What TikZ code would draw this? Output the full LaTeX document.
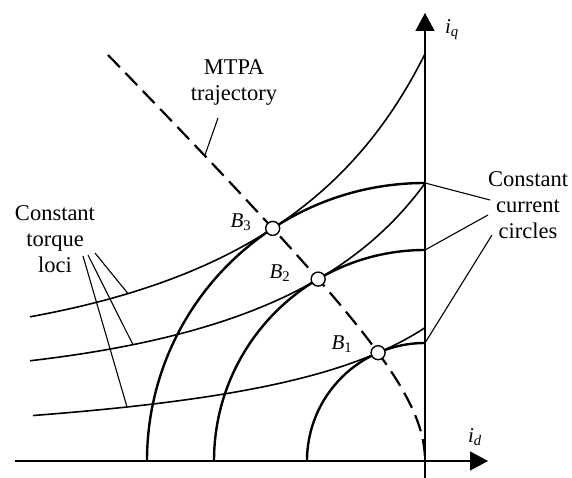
\RequirePackage{fix-cm}
\documentclass[tikz,border=0pt]{standalone}
\usepackage{fontspec}
\setmainfont{Liberation Serif}
\usetikzlibrary{arrows.meta}
\newcommand{\ital}[2]{\textit{#1}\textsubscript{\textit{#2}}}
\newcommand{\bsub}[2]{\textit{#1}\textsubscript{#2}}
\begin{document}
\begin{tikzpicture}[x=100pt,y=100pt,
  axis/.style={line width=1.3pt,-{Triangle[length=18pt,width=19pt]}},
  circ/.style={line width=2.4pt},
  torque/.style={line width=1.6pt},
  mtpa/.style={line width=2.2pt,dash pattern=on 17pt off 8pt},
  lead/.style={line width=1.1pt},
  bpt/.style={circle,draw,fill=white,line width=1.4pt,minimum size=14pt,inner sep=0pt},
  lbl/.style={font=\fontsize{22.5}{26}\selectfont,align=center,inner sep=0pt},
  blbl/.style={font=\fontsize{21}{24}\selectfont,inner sep=0pt},
]
\useasboundingbox (-4.25,-0.17) rectangle (1.47,4.61);
% axes
\coordinate (O) at (0,0);
\coordinate (xl) at (-4.10,0);
\coordinate (xr) at (0.63,0);
\coordinate (yb) at (0,-0.17);
\coordinate (yt) at (0,4.48);
\draw[axis] (xl) -- (xr);
\draw[axis] (yb) -- (yt);
\node[blbl] (id) at (0.50,0.24) {\ital{i}{d}};
\node[blbl] (iq) at (0.27,4.31) {\ital{i}{q}};
% constant current circles
\draw[circ] (0,1.18) arc[start angle=90,end angle=180,radius=1.18];
\draw[circ] (0,2.11) arc[start angle=90,end angle=180,radius=2.11];
\draw[circ] (0,2.78) arc[start angle=90,end angle=180,radius=2.78];
% constant torque loci
\draw[torque] plot[domain=-3.95:0,samples=150] (\x,{8.2643/(2.03-(\x))+0.0102*(max(0,-1.523-(\x)))^2});
\draw[torque] plot[domain=-3.95:0,samples=150] (\x,{5.6362/(2.03-(\x))+0.0072*(max(0,-1.0685-(\x)))^2});
\draw[torque] plot[domain=-3.92:0,samples=150] (\x,{2.7064/(2.03-(\x))});
% MTPA trajectory
\draw[mtpa] plot[domain=0:4.06,samples=120] ({1.015-sqrt(1.030225+(4.06-\x)^2)},{4.06-\x});
% operating points
\node[bpt] (B1) at (-0.469,1.083) {};
\node[bpt] (B2) at (-1.0685,1.819) {};
\node[bpt] (B3) at (-1.523,2.326) {};
\node[blbl] (lB1) at (-0.83,1.17) {\bsub{B}{1}};
\node[blbl] (lB2) at (-1.45,1.88) {\bsub{B}{2}};
\node[blbl] (lB3) at (-1.84,2.39) {\bsub{B}{3}};
% labels
\node[lbl] (mt) at (-1.91,3.78) {MTPA\\trajectory};
\node[lbl] (tl) at (-3.70,2.22) {Constant\\torque\\loci};
\node[lbl] (cc) at (1.03,2.56) {Constant\\current\\circles};
% leader lines
\coordinate (mtA) at (-2.07,3.43);
\coordinate (mtB) at (-2.20,3.06);
\draw[lead] (mtA) -- (mtB);
\coordinate (tlA) at (-3.30,2.08);
\coordinate (tlB) at (-3.37,2.06);
\coordinate (tlC) at (-3.42,2.05);
\coordinate (t3p) at (-2.97,1.674);
\coordinate (t2p) at (-2.92,1.163);
\coordinate (t1p) at (-2.98,0.540);
\draw[lead] (tlA) -- (t3p);
\draw[lead] (tlB) -- (t2p);
\draw[lead] (tlC) -- (t1p);
\coordinate (ccA) at (0.65,2.61);
\coordinate (ccB) at (0.63,2.46);
\coordinate (ccC) at (0.67,2.26);
\coordinate (c3) at (0,2.78);
\coordinate (c2) at (0,2.11);
\coordinate (c1) at (0,1.18);
\draw[lead] (ccA) -- (c3);
\draw[lead] (ccB) -- (c2);
\draw[lead] (ccC) -- (c1);
\end{tikzpicture}
\end{document}
